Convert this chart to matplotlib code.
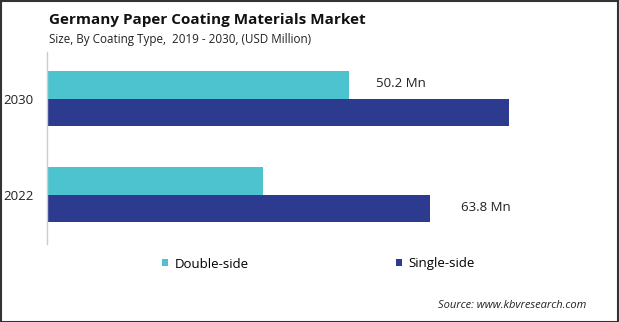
import matplotlib.pyplot as plt
from matplotlib.patches import Rectangle

years = ['2022', '2030']
double_side = [36.0, 50.2]
single_side = [63.8, 76.9]
labels = {('Double-side', '2030'): '50.2 Mn', ('Single-side', '2022'): '63.8 Mn'}

teal = '#4CC3CE'
navy = '#2C3A8F'

plt.rcParams['font.family'] = ['Open Sans', 'DejaVu Sans']

W, H = 619, 322
fig = plt.figure(figsize=(W / 100, H / 100), dpi=100)

# axes placed in pixel terms
left, right, top, bottom = 47.3, 600, 52, 244
ax = fig.add_axes([left / W, (H - bottom) / H, (right - left) / W, (bottom - top) / H])

px_per_unit = 6.0
bar_h = 27.5 / 96
pos = list(range(len(years)))
ax.barh([p + bar_h / 2 for p in pos], double_side, height=bar_h, color=teal, label='Double-side')
ax.barh([p - bar_h / 2 for p in pos], single_side, height=bar_h, color=navy, label='Single-side')

ax.set_xlim(0, (right - left) / px_per_unit)
ax.set_ylim(-49.5 / 96, 1 + 46.5 / 96)

# value labels
for (series, yr), txt in labels.items():
    i = years.index(yr)
    if series == 'Double-side':
        ax.text(double_side[i] + 4.6, i + bar_h / 2 + 0.01, txt, va='center', ha='left',
                fontsize=9.5, color='#222222')
    else:
        ax.text(single_side[i] + 5.2, i - bar_h / 2 + 0.01, txt, va='center', ha='left',
                fontsize=9.5, color='#222222')

ax.set_yticks(pos)
ax.set_yticklabels(years, fontsize=9.5, color='#222222')
ax.tick_params(axis='y', length=0, pad=10)
ax.set_xticks([])
for s in ['top', 'right', 'bottom']:
    ax.spines[s].set_visible(False)
ax.spines['left'].set_color('#cccccc')
ax.spines['left'].set_linewidth(1.0)

fig.text(49 / W, 1 - 20 / H, 'Germany Paper Coating Materials Market', fontsize=11,
         fontweight='bold', color='#111111', va='center', ha='left')
fig.text(49 / W, 1 - 39 / H, 'Size, By Coating Type,  2019 - 2030, (USD Million)', fontsize=8.4,
         color='#222222', va='center', ha='left')

handles, lbls = ax.get_legend_handles_labels()
fig.legend(handles, lbls, loc='center', bbox_to_anchor=(318.5 / W, 1 - 264 / H), ncol=2,
           frameon=False, fontsize=9.5, handlelength=0.45, handleheight=0.45,
           handletextpad=0.5, columnspacing=11.2)

fig.text(586 / W, 1 - 306 / H, 'Source: www.kbvresearch.com', fontsize=8, style='italic',
         color='#222222', va='center', ha='right')

# outer frame
fig.patches.append(Rectangle((0.5 / W, 0.5 / H), 1 - 1.5 / W, 1 - 1.5 / H, transform=fig.transFigure,
                             fill=False, edgecolor='#333333', linewidth=1.5))

fig.savefig('out.png', dpi=100)
